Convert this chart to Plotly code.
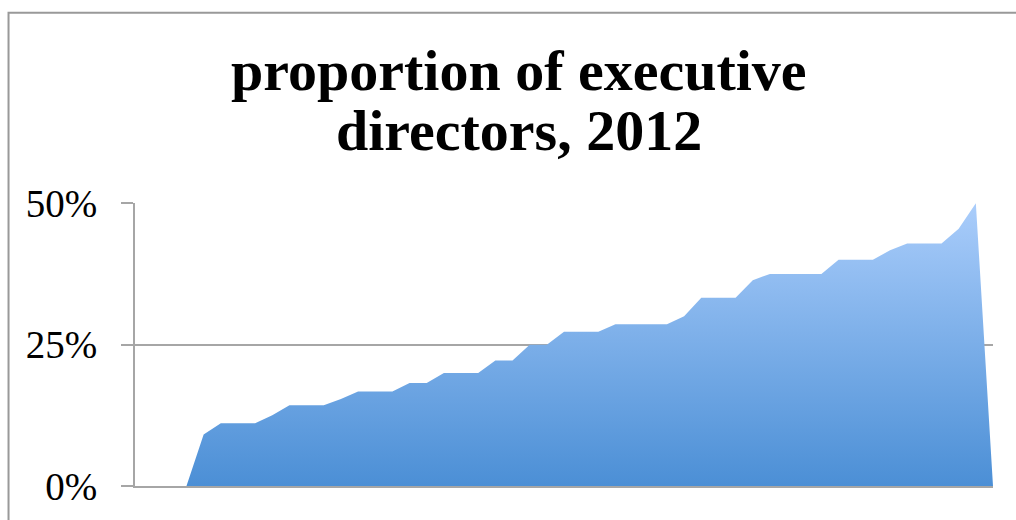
import plotly.graph_objects as go

# Companies ranked by share of executive directors on the board (2012)
companies = list(range(0, 51))
exec_share = [
    None, None, None,
    0.0, 0.091, 0.111, 0.111, 0.111, 0.125, 0.143, 0.143, 0.143, 0.154,
    0.167, 0.167, 0.167, 0.182, 0.182, 0.200, 0.200, 0.200, 0.222, 0.222,
    0.250, 0.250, 0.273, 0.273, 0.273, 0.286, 0.286, 0.286, 0.286, 0.300,
    0.333, 0.333, 0.333, 0.364, 0.375, 0.375, 0.375, 0.375, 0.400, 0.400,
    0.400, 0.417, 0.429, 0.429, 0.429, 0.455, 0.500, 0.0,
]
y_ticks = [0, 0.25, 0.5]
y_tick_text = ["0%", "25%", "50%"]
title_lines = ["proportion of executive", "directors, 2012"]

GRID = "#a6a6a6"
SERIF = "Liberation Serif"

fig = go.Figure()
fig.add_trace(go.Scatter(
    x=companies,
    y=exec_share,
    mode="lines",
    line=dict(width=0, color="#5b9be0"),
    fill="tozeroy",
    fillgradient=dict(
        type="vertical",
        colorscale=[[0, "#4a8ed5"], [1, "#aacdfb"]],
        start=0,
        stop=0.5,
    ),
    hoverinfo="skip",
    showlegend=False,
))

fig.update_layout(
    width=1016,
    height=520,
    margin=dict(l=135, r=23, t=203, b=30),
    paper_bgcolor="white",
    plot_bgcolor="white",
    showlegend=False,
    xaxis=dict(
        range=[0, 50],
        showgrid=False,
        showticklabels=False,
        ticks="",
        zeroline=False,
        showline=True,
        linecolor=GRID,
        linewidth=2,
    ),
    yaxis=dict(
        range=[0, 0.5005],
        tickvals=y_ticks,
        ticktext=y_tick_text,
        showgrid=True,
        gridcolor=GRID,
        gridwidth=2,
        zeroline=False,
        showline=True,
        linecolor=GRID,
        linewidth=2,
        ticks="outside",
        ticklen=12,
        tickwidth=2,
        tickcolor=GRID,
        ticklabelstandoff=16,
        tickfont=dict(family=SERIF, size=39, color="black"),
    ),
    shapes=[
        # chart frame
        dict(
            type="rect", xref="paper", yref="paper",
            x0=-0.1474, x1=1.2, y0=-0.3, y1=1.6725,
            line=dict(color="#999999", width=2),
            fillcolor="rgba(0,0,0,0)",
            layer="below",
        ),
    ],
    annotations=[
        dict(
            text=f"<b>{title_lines[0]}</b>", xref="paper", yref="paper",
            x=0.4476, y=1.468, xanchor="center", yanchor="middle",
            showarrow=False, font=dict(family=SERIF, size=58, color="black"),
        ),
        dict(
            text=f"<b>{title_lines[1]}</b>", xref="paper", yref="paper",
            x=0.4476, y=1.256, xanchor="center", yanchor="middle",
            showarrow=False, font=dict(family=SERIF, size=58, color="black"),
        ),
    ],
)

fig.write_html("out.html")
